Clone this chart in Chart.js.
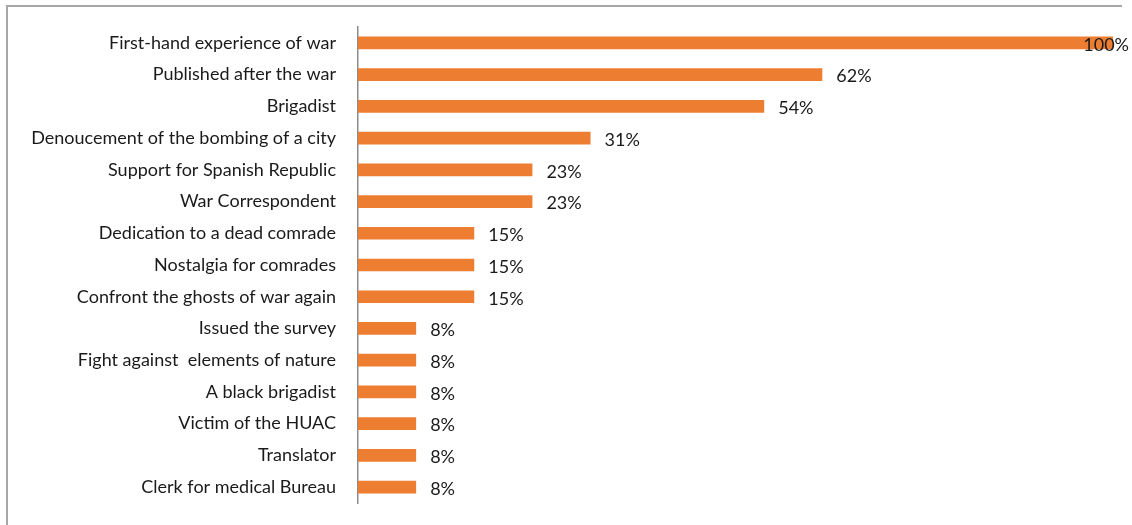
<!DOCTYPE html>
<html>
<head>
<meta charset="utf-8">
<title>Themes of the memoirs</title>
<script src="https://cdn.jsdelivr.net/npm/chart.js@4/dist/chart.umd.min.js"></script>
<style>
    html, body { margin: 0; padding: 0; background: #fff; }
    #wrap { position: relative; width: 1132px; height: 525px; overflow: hidden; }
    #frame {
        position: absolute; left: 6px; top: 5px; right: 10px; bottom: -10px;
        border-top: 2px solid #a6a6a6; border-left: 2px solid #a6a6a6;
    }
    #themesChart { position: absolute; left: 0; top: 0; }
</style>
</head>
<body>
<div id="wrap">
    <div id="frame"></div>
    <canvas id="themesChart" width="1132" height="525"></canvas>
</div>
<script>
// share of the 13 memoirs mentioning each theme (percent)
const categories = [
    'First-hand experience of war',
    'Published after the war',
    'Brigadist',
    'Denoucement of the bombing of a city',
    'Support for Spanish Republic',
    'War Correspondent',
    'Dedication to a dead comrade',
    'Nostalgia for comrades',
    'Confront the ghosts of war again',
    'Issued the survey',
    'Fight against  elements of nature',
    'A black brigadist',
    'Victim of the HUAC',
    'Translator',
    'Clerk for medical Bureau'
];
const shares = [100, 61.5, 53.8, 30.8, 23.1, 23.1, 15.4, 15.4, 15.4, 7.7, 7.7, 7.7, 7.7, 7.7, 7.7];

const fontFamily = 'Lato, "Open Sans", sans-serif';
const fontSize = 18;

// percent labels to the right of each bar, kept inside the canvas
const barLabels = {
    id: 'barLabels',
    afterDatasetsDraw(chart) {
        const ctx = chart.ctx;
        const meta = chart.getDatasetMeta(0);
        ctx.save();
        ctx.font = fontSize + 'px ' + fontFamily;
        ctx.fillStyle = '#1a1a1a';
        ctx.textBaseline = 'middle';
        meta.data.forEach((bar, i) => {
            const text = Math.round(shares[i]) + '%';
            const w = ctx.measureText(text).width;
            let x = bar.x + 14;
            if (x + w > chart.width - 3) {
                x = chart.width - 3 - w;
            }
            ctx.fillText(text, x, bar.y + 2);
        });
        ctx.restore();
    }
};

const ctx = document.getElementById('themesChart').getContext('2d');
new Chart(ctx, {
    type: 'bar',
    data: {
        labels: categories,
        datasets: [{
            data: shares,
            backgroundColor: '#ed7d31',
            barPercentage: 0.4,
            categoryPercentage: 1
        }]
    },
    options: {
        indexAxis: 'y',
        responsive: false,
        animation: false,
        layout: { padding: { top: 27, bottom: 22, right: 19, left: 0 } },
        scales: {
            x: { display: false, min: 0, max: 100 },
            y: {
                grid: { display: false },
                border: { display: true, color: '#8c8c8c', width: 1.5 },
                ticks: {
                    color: '#1a1a1a',
                    font: { family: fontFamily, size: fontSize },
                    padding: 14
                },
                afterFit(scale) {
                    // fixed label column, no extra room reserved for half labels
                    scale.width = 358;
                    scale.paddingTop = 0;
                    scale.paddingBottom = 0;
                }
            }
        },
        plugins: {
            legend: { display: false },
            tooltip: { enabled: false }
        }
    },
    plugins: [barLabels]
});
</script>
</body>
</html>
